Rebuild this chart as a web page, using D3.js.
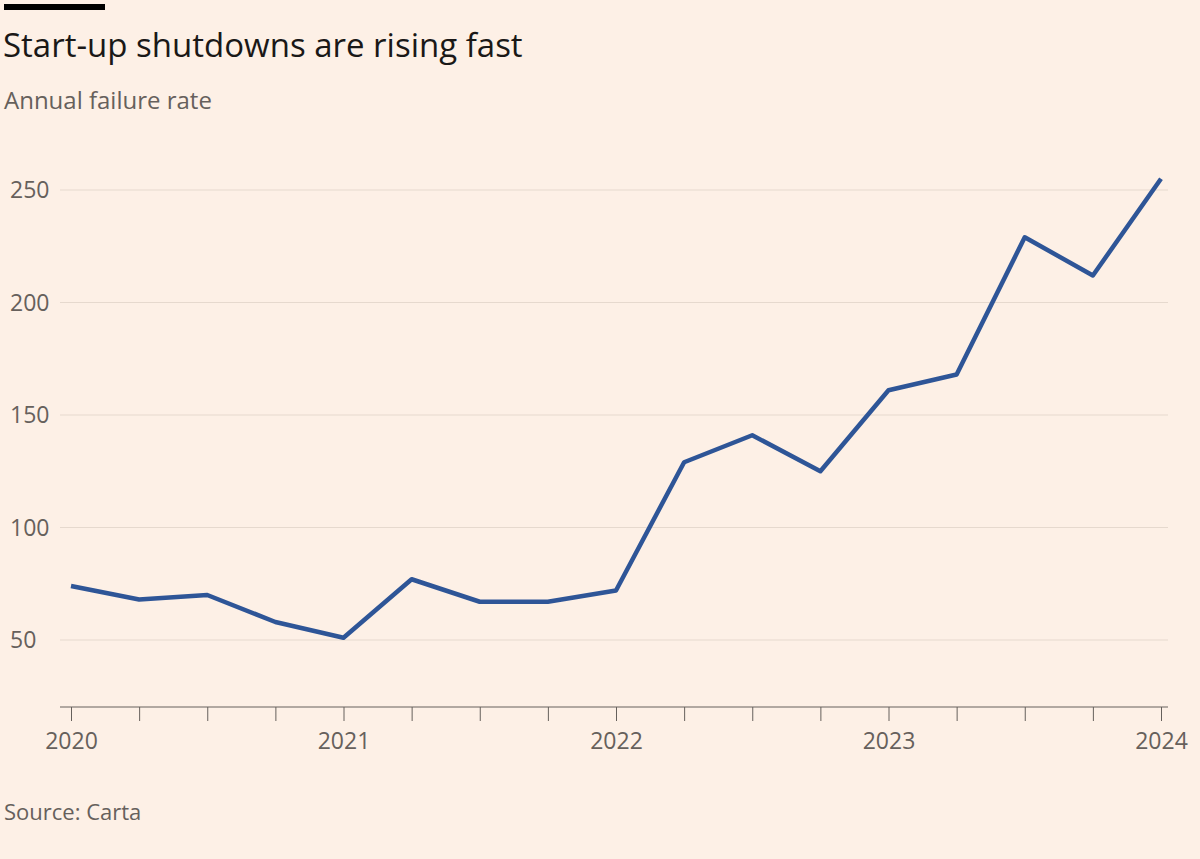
<!DOCTYPE html>
<html><head><meta charset="utf-8">
<script src="https://cdn.jsdelivr.net/npm/d3@7"></script>
<style>body{margin:0;background:#fdf0e6;}svg{display:block;font-family:"Open Sans",sans-serif;}</style>
</head><body><svg id="c" width="1200" height="859"></svg>
<script>
// quarterly points, Q1 2020 .. Q1 2024
var quarters = d3.range(17).map(function(i){ return 2020 + i/4; });
var failures = [74, 68, 70, 58, 51, 77, 67, 67, 72, 129, 141, 125, 161, 168, 229, 212, 255];
var yTicks = [50, 100, 150, 200, 250];
var xTicks = [2020, 2021, 2022, 2023, 2024];

var svg = d3.select("#c");
svg.append("rect").attr("width",1200).attr("height",859).attr("fill","#fdf0e6");
svg.append("rect").attr("x",4).attr("y",4).attr("width",101).attr("height",6).attr("fill","#000");
svg.append("text").attr("x",3).attr("y",57).attr("font-size",33).attr("fill","#1a1817").text("Start-up shutdowns are rising fast");
svg.append("text").attr("x",4).attr("y",109).attr("font-size",24).attr("fill","#66605c").text("Annual failure rate");
svg.append("text").attr("x",4).attr("y",820).attr("font-size",22).attr("fill","#66605c").text("Source: Carta");

var x = d3.scaleLinear().domain([2020, 2024]).range([71, 1161]);
var y = d3.scaleLinear().domain([20, 250]).range([707.5, 190]);

var g = svg.append("g");
yTicks.forEach(function(t){
  g.append("line").attr("x1",60).attr("x2",1168).attr("y1",y(t)).attr("y2",y(t)).attr("stroke","#e6d9ce").attr("stroke-width",1);
  g.append("text").attr("x",10).attr("y",y(t)).attr("dy","0.35em").attr("font-size",23).attr("fill","#66605c").text(t);
});

var ax = svg.append("g").attr("transform","translate(0,707)")
  .call(d3.axisBottom(x).tickValues(quarters).tickSize(14).tickFormat(function(d){ return xTicks.indexOf(d)>=0 ? d : ""; }));
ax.select(".domain").attr("stroke","#66605c").attr("d","M60,0H1168");
ax.selectAll(".tick line").attr("stroke","#66605c");
ax.selectAll(".tick text").attr("font-size",23).attr("fill","#66605c").attr("font-family","Open Sans, sans-serif").attr("dy","1.1em");

svg.append("path").datum(failures)
  .attr("d", d3.line().x(function(d,i){ return x(quarters[i]); }).y(function(d){ return y(d); }))
  .attr("fill","none").attr("stroke","#2e5597").attr("stroke-width",4.5).attr("stroke-linejoin","round");
</script></body></html>
